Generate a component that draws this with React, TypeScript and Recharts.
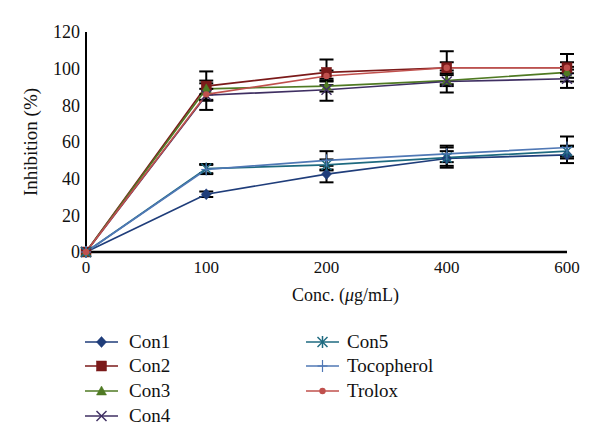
import React from 'react';
import { LineChart, Line, XAxis, YAxis, ErrorBar } from 'recharts';

const concentrations = ['0', '100', '200', '400', '600'];
const yTicks = [0, 20, 40, 60, 80, 100, 120];

const con1 = [0, 31.5, 42.5, 51, 53];
const con1Err = [0, 1.5, 4.5, 4, 4.5];
const con2 = [0, 90.5, 98, 100.5, 100.5];
const con2Err = [0, 8, 7, 9, 7.5];
const con3 = [0, 89, 90.5, 93.5, 98];
const con3Err = [0, 3, 3, 3, 3];
const con4 = [0, 85.5, 88.5, 93, 94.5];
const con4Err = [0, 8, 6, 6, 5];
const con5 = [0, 45.5, 47.5, 51.5, 55];
const con5Err = [0, 2.5, 3, 5.5, 3];
const tocopherol = [0, 45, 50, 53.5, 57];
const tocopherolErr = [0, 2.5, 5, 4.5, 6];
const trolox = [0, 86, 96, 100.5, 100.5];
const troloxErr = [0, 3, 3, 3, 3];

type Shape = 'diamond' | 'square' | 'triangle' | 'x' | 'asterisk' | 'plus' | 'circle';

const series: { key: string; name: string; values: number[]; errs: number[]; color: string; shape: Shape }[] = [
  { key: 'con1', name: 'Con1', values: con1, errs: con1Err, color: '#1F3D7A', shape: 'diamond' },
  { key: 'con2', name: 'Con2', values: con2, errs: con2Err, color: '#7B1A1A', shape: 'square' },
  { key: 'con3', name: 'Con3', values: con3, errs: con3Err, color: '#4F7A23', shape: 'triangle' },
  { key: 'con4', name: 'Con4', values: con4, errs: con4Err, color: '#3F2F62', shape: 'x' },
  { key: 'con5', name: 'Con5', values: con5, errs: con5Err, color: '#1E6A80', shape: 'asterisk' },
  { key: 'toco', name: 'Tocopherol', values: tocopherol, errs: tocopherolErr, color: '#5078B5', shape: 'plus' },
  { key: 'trolox', name: 'Trolox', values: trolox, errs: troloxErr, color: '#C0504D', shape: 'circle' },
];

const data = concentrations.map((c, i) => {
  const row: Record<string, number | string> = { conc: c };
  series.forEach((s) => {
    row[s.key] = s.values[i];
    row[s.key + 'Err'] = s.errs[i];
  });
  return row;
});

const FONT = '"Liberation Serif", "DejaVu Serif", serif';

function Marker({ cx, cy, shape, color }: { cx: number; cy: number; shape: Shape; color: string }) {
  const r = 5;
  switch (shape) {
    case 'diamond':
      return <path d={`M${cx},${cy - r - 0.5} L${cx + r},${cy} L${cx},${cy + r + 0.5} L${cx - r},${cy} Z`} fill={color} stroke={color} strokeWidth={0.5} />;
    case 'square':
      return <rect x={cx - r} y={cy - r} width={2 * r} height={2 * r} fill={color} stroke={color} strokeWidth={0.5} />;
    case 'triangle':
      return <path d={`M${cx},${cy - r} L${cx + r},${cy + r - 1} L${cx - r},${cy + r - 1} Z`} fill={color} stroke={color} strokeWidth={0.5} />;
    case 'x':
      return (
        <g stroke={color} strokeWidth={1.5}>
          <line x1={cx - r} y1={cy - r} x2={cx + r} y2={cy + r} />
          <line x1={cx - r} y1={cy + r} x2={cx + r} y2={cy - r} />
        </g>
      );
    case 'asterisk':
      return (
        <g stroke={color} strokeWidth={1.5}>
          <line x1={cx - r} y1={cy - r} x2={cx + r} y2={cy + r} />
          <line x1={cx - r} y1={cy + r} x2={cx + r} y2={cy - r} />
          <line x1={cx} y1={cy - r - 1} x2={cx} y2={cy + r + 1} />
        </g>
      );
    case 'plus':
      return (
        <g stroke={color} strokeWidth={1.2}>
          <line x1={cx} y1={cy - r - 1} x2={cx} y2={cy + r + 1} />
          <line x1={cx - r} y1={cy} x2={cx + r} y2={cy} />
        </g>
      );
    case 'circle':
    default:
      return <circle cx={cx} cy={cy} r={3.2} fill={color} />;
  }
}

const makeDot = (shape: Shape, color: string) => (props: any) => {
  const { cx, cy, index } = props;
  if (cx == null || cy == null) return <g key={index} />;
  return <Marker key={index} cx={cx} cy={cy} shape={shape} color={color} />;
};

const XLabel = (props: any) => {
  const vb = props.viewBox || { x: 86, y: 252, width: 481, height: 60 };
  const cx = vb.x + vb.width / 2 + 19;
  return (
    <text x={cx} y={301} textAnchor="middle" fontFamily={FONT} fontSize={18} fill="#111">
      Conc. (<tspan fontStyle="italic">μ</tspan>g/mL)
    </text>
  );
};

const YLabel = (props: any) => {
  const vb = props.viewBox || { x: 0, y: 32, width: 86, height: 220 };
  const cy = vb.y + vb.height / 2;
  const cx = 37;
  return (
    <text x={cx} y={cy} transform={`rotate(-90, ${cx}, ${cy})`} textAnchor="middle" fontFamily={FONT} fontSize={19} fill="#111">
      Inhibition (%)
    </text>
  );
};

function LegendIcon({ shape, color }: { shape: Shape; color: string }) {
  return (
    <svg width={34} height={14} style={{ display: 'block' }}>
      <line x1={0} y1={7} x2={33} y2={7} stroke={color} strokeWidth={1.6} />
      <Marker cx={16.5} cy={7} shape={shape} color={color} />
    </svg>
  );
}

function ChartLegend() {
  const col1 = series.slice(0, 4);
  const col2 = series.slice(4);
  const rowYs = [342, 366, 391, 416];
  const renderCol = (items: typeof series, iconX: number, textX: number) =>
    items.map((s, i) => (
      <React.Fragment key={s.key}>
        <div style={{ position: 'absolute', left: iconX, top: rowYs[i] - 7 }}>
          <LegendIcon shape={s.shape} color={s.color} />
        </div>
        <div
          style={{
            position: 'absolute',
            left: textX,
            top: rowYs[i] - 12,
            height: 24,
            lineHeight: '24px',
            fontFamily: FONT,
            fontSize: 19,
            color: '#111',
            whiteSpace: 'nowrap',
          }}
        >
          {s.name}
        </div>
      </React.Fragment>
    ));
  return (
    <>
      {renderCol(col1, 85, 129)}
      {renderCol(col2, 306, 347)}
    </>
  );
}

export default function App() {
  return (
    <div style={{ position: 'absolute', left: 0, top: 0, width: 600, height: 445, background: '#fff' }}>
      <LineChart width={600} height={445} data={data} margin={{ top: 32, right: 33, left: 0, bottom: 133 }}>
        <XAxis
          dataKey="conc"
          type="category"
          scale="point"
          padding={{ left: 0, right: 0 }}
          height={60}
          axisLine={{ stroke: '#000', strokeWidth: 2.5 }}
          tickLine={false}
          tickSize={0}
          tickMargin={9}
          tick={{ fontFamily: FONT, fontSize: 17, fill: '#111' }}
          label={<XLabel />}
        />
        <YAxis
          domain={[0, 120]}
          ticks={yTicks}
          width={86}
          axisLine={{ stroke: '#000', strokeWidth: 2 }}
          tickLine={false}
          tickSize={0}
          tickMargin={6}
          interval={0}
          tick={{ fontFamily: FONT, fontSize: 18, fill: '#111' }}
          label={<YLabel />}
        />
        {series.map((s) => (
          <Line
            key={s.key}
            dataKey={s.key}
            name={s.name}
            stroke={s.color}
            strokeWidth={1.7}
            isAnimationActive={false}
            dot={makeDot(s.shape, s.color)}
            activeDot={false}
          >
            <ErrorBar dataKey={s.key + 'Err'} width={7} stroke="#000" strokeWidth={2} direction="y" />
          </Line>
        ))}
      </LineChart>
      <ChartLegend />
    </div>
  );
}
